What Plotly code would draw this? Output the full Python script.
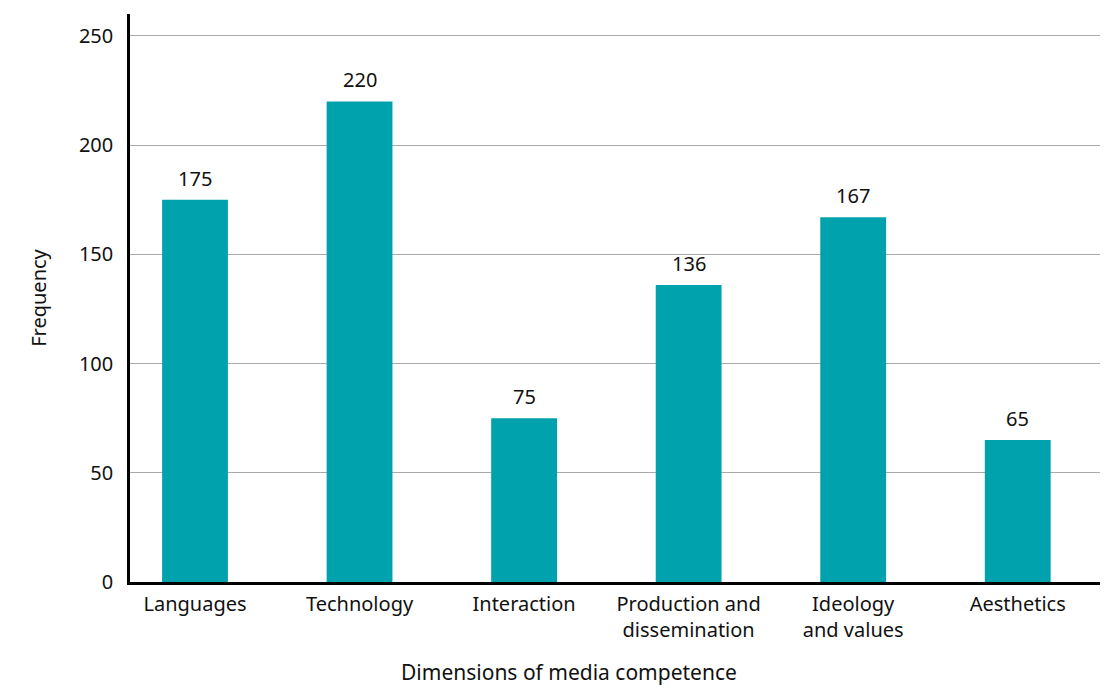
import plotly.graph_objects as go

categories = ["Languages", "Technology", "Interaction", "Production and<br>dissemination", "Ideology<br>and values", "Aesthetics"]
frequency = [175, 220, 75, 136, 167, 65]
y_ticks = [0, 50, 100, 150, 200, 250]
x_title = "Dimensions of media competence"
y_title = "Frequency"

FONT = "Noto Sans"
BAR_COLOR = "#00A3AD"

fig = go.Figure(go.Bar(
    x=categories,
    y=frequency,
    width=0.4,
    marker=dict(color=BAR_COLOR, line=dict(width=0)),
    cliponaxis=False,
))

for c, v in zip(categories, frequency):
    fig.add_annotation(
        x=c, y=v, text=str(v), showarrow=False,
        yanchor="bottom", yshift=6,
        font=dict(family=FONT, size=20, color="#111111"),
    )

# x-axis title (centred slightly left of the plot centre, as in the reference)
fig.add_annotation(
    x=0.4526, y=-0.1585, xref="paper", yref="paper",
    text=x_title, showarrow=False, xanchor="center", yanchor="middle",
    font=dict(family=FONT, size=21, color="#111111"),
)

fig.update_layout(
    width=1111, height=687,
    margin=dict(l=130, r=11, t=14, b=105, autoexpand=False),
    paper_bgcolor="white", plot_bgcolor="white",
    font=dict(family=FONT, size=20, color="#111111"),
    showlegend=False,
)

fig.update_xaxes(
    type="category",
    range=[-0.395, 5.5],
    showline=True, linecolor="black", linewidth=2.5,
    showgrid=False,
    ticks="", ticklabelstandoff=2,
    automargin=False,
    tickfont=dict(family=FONT, size=20),
)

fig.update_yaxes(
    range=[0, 260],
    tickvals=y_ticks,
    showline=True, linecolor="black", linewidth=2.5,
    showgrid=True, gridcolor="#AAAAAA", gridwidth=1.2,
    zeroline=False,
    ticks="", ticklabelstandoff=10,
    automargin=False,
    tickfont=dict(family=FONT, size=20),
    title=dict(text=y_title, font=dict(family=FONT, size=20), standoff=27),
)

fig.write_html("out.html")
